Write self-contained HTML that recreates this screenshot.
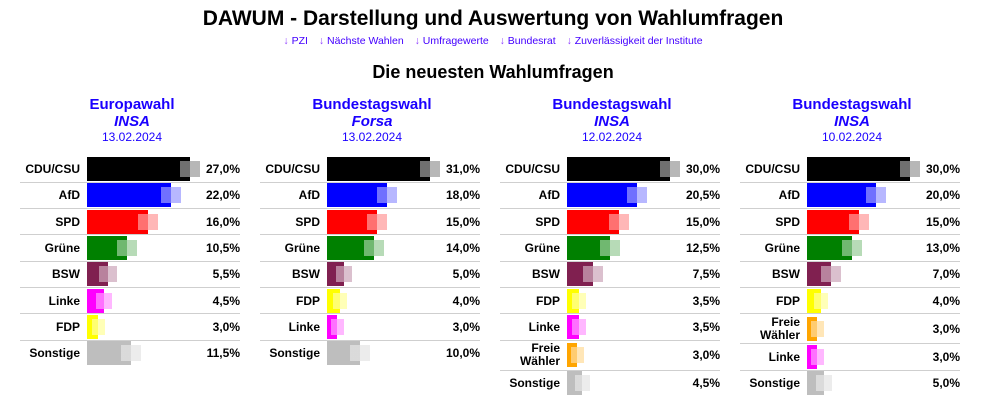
<!DOCTYPE html>
<html><head><meta charset="utf-8"><style>
body{margin:0;width:996px;height:404px;background:#fff;font-family:"Liberation Sans",Arial,sans-serif;position:relative;overflow:hidden}
.a{position:absolute}
h1{position:absolute;left:0;width:986px;top:7px;margin:0;text-align:center;font-size:21px;font-weight:bold;color:#000}
.links{position:absolute;left:0;width:986px;top:35px;text-align:center;font-size:10.5px;color:#4400ff}
.links span{margin:0 4px}.links b{font-weight:normal;color:#9040ff}
h2{position:absolute;left:0;width:986px;top:62px;margin:0;text-align:center;font-size:18px;font-weight:bold}
.hd{position:absolute;width:240px;text-align:center;color:#1a00ff}
.lbl{position:absolute;text-align:right;font-size:12px;font-weight:bold;line-height:13px;width:70px}
.val{position:absolute;text-align:right;font-size:12px;font-weight:bold;width:60px}
.sep{position:absolute;height:1px;background:#cfcfcf}
</style></head><body>
<h1>DAWUM - Darstellung und Auswertung von Wahlumfragen</h1>
<div class="links"><span><b>↓</b> PZI</span> <span><b>↓</b> Nächste Wahlen</span> <span><b>↓</b> Umfragewerte</span> <span><b>↓</b> Bundesrat</span> <span><b>↓</b> Zuverlässigkeit der Institute</span></div>
<h2>Die neuesten Wahlumfragen</h2>
<div id="c"></div>
<script>
const C={"CDU/CSU":[0,0,0],"AfD":[0,0,255],"SPD":[255,0,0],"Grüne":[0,128,0],"BSW":[128,32,80],"Linke":[255,0,255],"FDP":[255,255,0],"Sonstige":[190,190,190],"Freie<br>Wähler":[255,165,0]};
const P=[
["Europawahl","INSA","13.02.2024",[["CDU/CSU",27],["AfD",22],["SPD",16],["Grüne",10.5],["BSW",5.5],["Linke",4.5],["FDP",3],["Sonstige",11.5]]],
["Bundestagswahl","Forsa","13.02.2024",[["CDU/CSU",31],["AfD",18],["SPD",15],["Grüne",14],["BSW",5],["FDP",4],["Linke",3],["Sonstige",10]]],
["Bundestagswahl","INSA","12.02.2024",[["CDU/CSU",30],["AfD",20.5],["SPD",15],["Grüne",12.5],["BSW",7.5],["FDP",3.5],["Linke",3.5],["Freie<br>Wähler",3],["Sonstige",4.5]]],
["Bundestagswahl","INSA","10.02.2024",[["CDU/CSU",30],["AfD",20],["SPD",15],["Grüne",13],["BSW",7],["FDP",4],["Freie<br>Wähler",3],["Linke",3],["Sonstige",5]]]];
let h="";
P.forEach((p,i)=>{const x=240*i;
h+=`<div class="hd" style="left:${x+12}px;top:96px;font-size:15px;font-weight:bold">${p[0]}</div>`;
h+=`<div class="hd" style="left:${x+12}px;top:113px;font-size:15px;font-weight:bold;font-style:italic">${p[1]}</div>`;
h+=`<div class="hd" style="left:${x+12}px;top:130px;font-size:12px">${p[2]}</div>`;
const max=p[3][0][1];let y=157;
p[3].forEach((r,k)=>{const tall=r[0].includes("<br>");const top=tall?y+2:y;const c=C[r[0]];
const w=Math.round(r[1]/max*103);
h+=`<div class="a" style="left:${x+87}px;top:${top}px;width:${w}px;height:24px;background:rgb(${c})"></div>`;
const ow=Math.max(13,Math.min(20,w*0.6+6));
h+=`<div class="a" style="left:${x+87+w-ow/2}px;top:${top+4}px;width:${ow}px;height:16px;background:linear-gradient(rgba(255,255,255,.44),rgba(255,255,255,.44)),rgba(${c},.5)"></div>`;
h+=`<div class="lbl" style="left:${x+10}px;top:${tall?top-1:top+6}px">${r[0]}</div>`;
h+=`<div class="val" style="left:${x+180}px;top:${top+5}px">${r[1].toFixed(1).replace('.',',')}%</div>`;
const pitch=tall?30:26.3;
if(k<p[3].length-1)h+=`<div class="sep" style="left:${x+20}px;width:220px;top:${Math.round(y+pitch-1.5)}px"></div>`;
y+=pitch;});
});
document.getElementById("c").innerHTML=h;
</script>
</body></html>
